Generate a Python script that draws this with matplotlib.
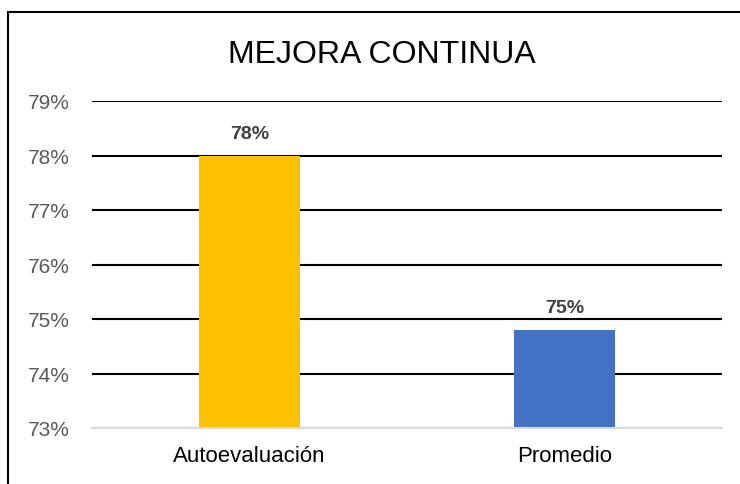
import matplotlib.pyplot as plt
from matplotlib.patches import Rectangle

categories = ['Autoevaluación', 'Promedio']
values = [78.0, 74.8]
labels = ['78%', '75%']
colors = ['#FFC000', '#4472C4']
yticks = [73, 74, 75, 76, 77, 78, 79]

plt.rcParams['font.family'] = ['Liberation Sans Narrow', 'Liberation Sans', 'DejaVu Sans']

fig = plt.figure(figsize=(7.4, 4.85), dpi=100)
# [left, bottom, width, height]
ax = fig.add_axes([92/740, 1-429/485, 630/740, 327/485])

x = range(len(categories))
ax.bar(x, [v - 73 for v in values], bottom=73, width=0.32, color=colors, zorder=3)
for xi, v, lab in zip(x, values, labels):
    ax.text(xi, v + 0.33, lab, ha='center', va='baseline', fontsize=14,
            fontweight='bold', color='#404040')

ax.set_xlim(-0.5, 1.5)
ax.set_ylim(73, 79)
ax.set_yticks(yticks)
ax.set_yticklabels([f'{t}%' for t in yticks], fontsize=15, color='#595959')
ax.set_xticks(list(x))
ax.set_xticklabels(categories, fontsize=16, color='black')
ax.tick_params(length=0)
ax.tick_params(axis='y', pad=16)
ax.tick_params(axis='x', pad=12)
ax.grid(axis='y', color='black', lw=1.5, zorder=0)
for s in ['top', 'right', 'left']:
    ax.spines[s].set_visible(False)
ax.spines['bottom'].set_color('#D9D9D9')
ax.spines['bottom'].set_linewidth(1.5)
ax.spines['bottom'].set_zorder(4)

fig.text(382/740, 1-55/485, 'MEJORA CONTINUA', ha='center', va='center', fontsize=23)

# outer border, runs off the right and bottom edges
fig.patches.append(Rectangle((8/740, -0.05), 1.0, 1-13/485+0.05,
                             transform=fig.transFigure, fill=False,
                             edgecolor='black', lw=1.5))

fig.savefig('out.png', dpi=100)
